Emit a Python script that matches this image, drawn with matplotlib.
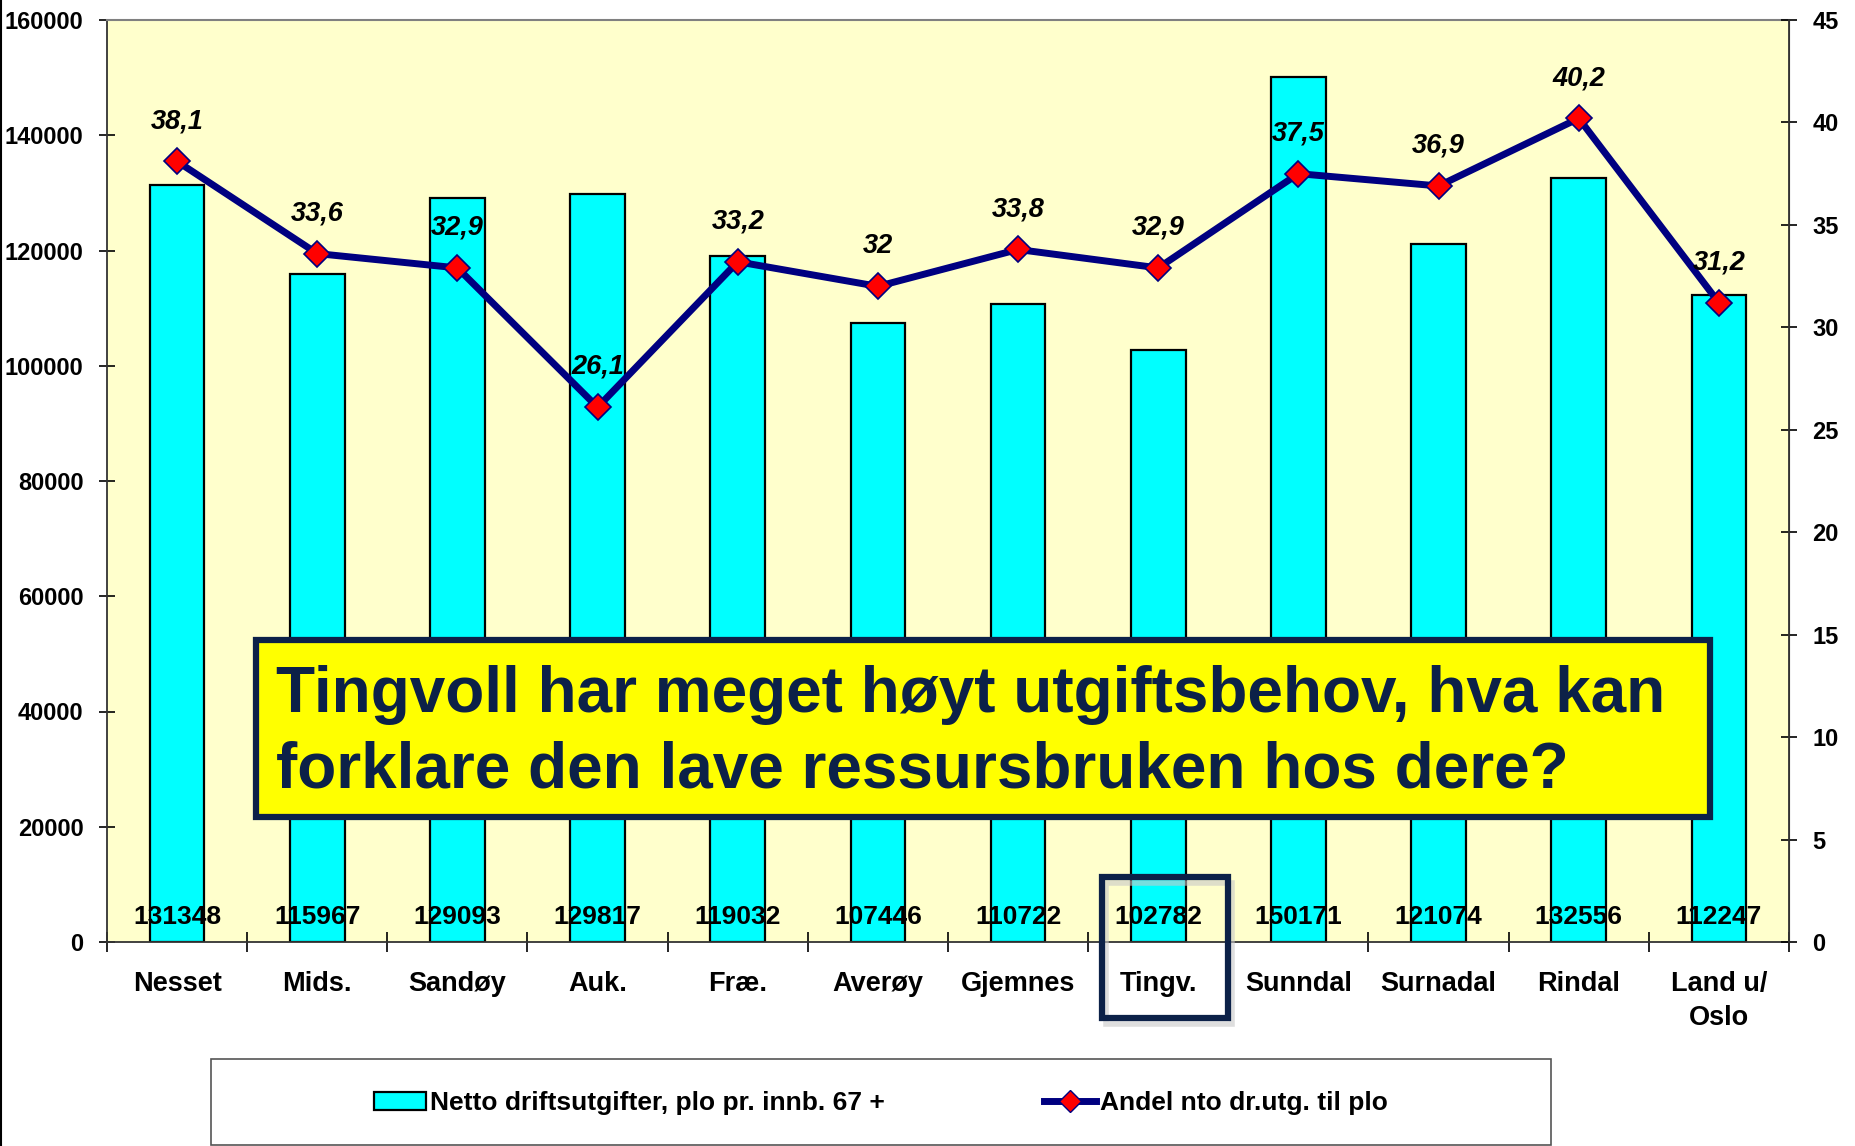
import numpy as np
import matplotlib
matplotlib.use("Agg")
import matplotlib.pyplot as plt
from matplotlib.patches import Rectangle, Patch
from matplotlib.lines import Line2D
from matplotlib.font_manager import FontProperties

categories = ['Nesset', 'Mids.', 'Sandøy', 'Auk.', 'Fræ.', 'Averøy', 'Gjemnes',
              'Tingv.', 'Sunndal', 'Surnadal', 'Rindal', 'Land u/\nOslo']
netto = [131348, 115967, 129093, 129817, 119032, 107446, 110722, 102782,
         150171, 121074, 132556, 112247]
andel = [38.1, 33.6, 32.9, 26.1, 33.2, 32.0, 33.8, 32.9, 37.5, 36.9, 40.2, 31.2]
left_ticks = list(range(0, 160001, 20000))
right_ticks = list(range(0, 46, 5))
bar_label = 'Netto driftsutgifter, plo pr. innb. 67 +'
line_label = 'Andel nto dr.utg. til plo'
note = 'Tingvoll har meget høyt utgiftsbehov, hva kan\nforklare den lave ressursbruken hos dere?'

NAVY = '#000080'
BOXNAVY = '#0c2148'
CYAN = '#00ffff'
BG = '#ffffcc'

fam = ['Liberation Sans', 'DejaVu Sans']

W, H = 1856, 1146
fig = plt.figure(figsize=(W / 100, H / 100), dpi=100)
fig.patch.set_facecolor('white')

L, R, T, B = 107, 1789, 20, 942
ax = fig.add_axes([L / W, 1 - B / H, (R - L) / W, (B - T) / H])
ax.set_facecolor(BG)
x = np.arange(len(categories))
ax.bar(x, netto, width=0.39, color=CYAN, edgecolor='black', linewidth=1.6, zorder=2)
ax.set_xlim(-0.5, len(categories) - 0.5)
ax.set_ylim(0, 160000)
ax.set_yticks(left_ticks)
ax.set_yticklabels([str(v) for v in left_ticks],
                   fontproperties=FontProperties(family=fam, weight='bold', size=17))
ax.tick_params(axis='y', direction='inout', length=12, width=1.2, pad=11, colors='black')

ax.set_xticks(np.arange(-0.5, len(categories), 1))
ax.set_xticklabels([])
ax.tick_params(axis='x', which='major', direction='inout', length=14, width=1.2)
ax.set_xticks(x, minor=True)
ax.set_xticklabels(categories, minor=True,
                   fontproperties=FontProperties(family=fam, weight='bold', size=19.5))
for lbl in ax.get_xticklabels(minor=True):
    lbl.set_linespacing(1.4)
ax.tick_params(axis='x', which='minor', length=0, pad=21)

for sp in ['left', 'bottom']:
    ax.spines[sp].set_color('#333333')
    ax.spines[sp].set_linewidth(1.3)
ax.spines['top'].set_color('#808080')
ax.spines['top'].set_linewidth(1.5)
ax.spines['right'].set_color('#333333')

vfont = FontProperties(family=fam, weight='bold', size=19)
for xi, v in zip(x, netto):
    ax.text(xi, 4400, str(v), ha='center', va='center', fontproperties=vfont, zorder=4)

ax2 = ax.twinx()
ax2.set_ylim(0, 45)
ax2.set_yticks(right_ticks)
ax2.set_yticklabels([str(v) for v in right_ticks],
                    fontproperties=FontProperties(family=fam, weight='bold', size=17))
ax2.tick_params(axis='y', direction='inout', length=12, width=1.2, pad=11)
ax2.spines['right'].set_color('#333333')
ax2.spines['right'].set_linewidth(1.3)
ax2.spines['top'].set_visible(False)
ax2.spines['left'].set_visible(False)
ax2.spines['bottom'].set_visible(False)
ax2.plot(x, andel, color=NAVY, linewidth=5, marker='D', markersize=13,
         markerfacecolor='#ff0000', markeredgecolor=NAVY, markeredgewidth=1.2, zorder=3)
lfont = FontProperties(family=fam, weight='bold', style='italic', size=19.5)
for xi, v in zip(x, andel):
    ax2.annotate(f'{v:g}'.replace('.', ','), (xi, v), xytext=(0, 29),
                 textcoords='offset points', ha='center', va='center', fontproperties=lfont)

# Figure left border line
fig.add_artist(Line2D([0.0008, 0.0008], [0, 1], color='black', lw=1.5))

# Annotation box
bx0, bx1, by0, by1 = 256, 1710, 640, 817
fig.add_artist(Rectangle((bx0 / W, 1 - by1 / H), (bx1 - bx0) / W, (by1 - by0) / H,
                         transform=fig.transFigure, facecolor='#ffff00',
                         edgecolor=BOXNAVY, linewidth=4.5, zorder=5))
fig.text(276 / W, 1 - 733 / H, note, ha='left', va='center', color=BOXNAVY,
         fontproperties=FontProperties(family=fam, weight='bold', size=46),
         linespacing=1.32, zorder=6)

# Tingv. highlight box with shadow
tx0, tx1, ty0, ty1 = 1102, 1228, 877, 1018
fig.add_artist(Rectangle(((tx0 + 4) / W, 1 - (ty1 + 6) / H), (tx1 - tx0) / W, (ty1 - ty0) / H,
                         transform=fig.transFigure, facecolor='none',
                         edgecolor='#c8c8c8', linewidth=4, zorder=5, alpha=0.6))
fig.add_artist(Rectangle((tx0 / W, 1 - ty1 / H), (tx1 - tx0) / W, (ty1 - ty0) / H,
                         transform=fig.transFigure, facecolor='none',
                         edgecolor=BOXNAVY, linewidth=4.5, zorder=6))

# Legend
lx0, lx1, ly0, ly1 = 211, 1551, 1059, 1145
fig.add_artist(Rectangle((lx0 / W, 1 - ly1 / H), (lx1 - lx0) / W, (ly1 - ly0) / H,
                         transform=fig.transFigure, facecolor='white',
                         edgecolor='#555555', linewidth=1.2, zorder=1))
handles = [Patch(facecolor=CYAN, edgecolor='black', linewidth=1.6),
           Line2D([], [], color=NAVY, linewidth=5, marker='D', markersize=11,
                  markerfacecolor='#ff0000', markeredgecolor=NAVY)]
leg = fig.legend(handles, [bar_label, line_label], loc='center',
                 bbox_to_anchor=(881 / W, 1 - 1103 / H), ncol=2, frameon=False,
                 prop=FontProperties(family=fam, weight='bold', size=19),
                 handlelength=2.0, handleheight=0.7, handletextpad=0.15,
                 columnspacing=6.0, borderpad=0)
leg.set_zorder(2)

fig.savefig('out.png', dpi=100)
